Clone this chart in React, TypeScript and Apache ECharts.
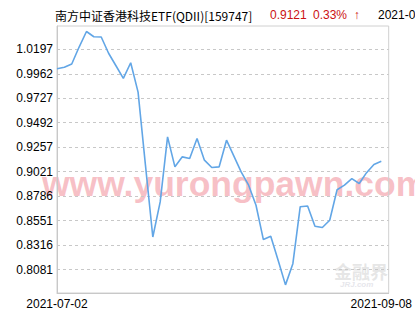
import React, { useEffect, useRef } from "react";
import * as echarts from "echarts";

const dates = [
  "2021-07-02", "2021-07-06", "2021-07-07", "2021-07-08", "2021-07-09",
  "2021-07-12", "2021-07-13", "2021-07-14", "2021-07-15", "2021-07-16",
  "2021-07-19", "2021-07-20", "2021-07-21", "2021-07-22", "2021-07-23",
  "2021-07-26", "2021-07-27", "2021-07-28", "2021-07-29", "2021-07-30",
  "2021-08-03", "2021-08-04", "2021-08-05", "2021-08-06", "2021-08-09",
  "2021-08-10", "2021-08-11", "2021-08-12", "2021-08-13", "2021-08-16",
  "2021-08-17", "2021-08-18", "2021-08-19", "2021-08-20", "2021-08-23",
  "2021-08-24", "2021-08-25", "2021-08-26", "2021-08-27", "2021-08-30",
  "2021-09-01", "2021-09-02", "2021-09-03", "2021-09-07", "2021-09-08",
];

const navValues = [
  1.0010, 1.0024, 1.0056, 1.0219, 1.0368, 1.0318, 1.0315, 1.0159, 1.0039, 0.9918,
  1.0068, 0.9786, 0.9084, 0.8394, 0.8731, 0.9356, 0.9068, 0.9164, 0.9148, 0.9341,
  0.9132, 0.9062, 0.9068, 0.9324, 0.9171, 0.9017, 0.8892, 0.8699, 0.8369, 0.8401,
  0.8170, 0.7934, 0.8138, 0.8685, 0.8692, 0.8497, 0.8485, 0.8555, 0.8848, 0.8892,
  0.8954, 0.8908, 0.9012, 0.9091, 0.9121,
];

const yTickLabels = [
  "0.8081", "0.8316", "0.8551", "0.8786", "0.9021",
  "0.9257", "0.9492", "0.9727", "0.9962", "1.0197",
];

const titleName = "南方中证香港科技ETF(QDII)[159747]";
const titlePrice = "0.9121";
const titleChange = "0.33%  ↑";
const titleDate = "2021-09-08";

export default function App() {
  const ref = useRef<HTMLDivElement>(null);
  useEffect(() => {
    if (!ref.current) return;
    const chart = echarts.init(ref.current, undefined, { renderer: "svg" });
    const tickVals = yTickLabels.map((s) => parseFloat(s));
    const cats = dates.concat([""]);
    const lastIdx = dates.length - 1;
    chart.setOption({
      animation: false,
      backgroundColor: "#fff",
      grid: {
        left: 57,
        right: 23,
        top: 26,
        bottom: 37,
        show: true,
        borderColor: "#d0d0d0",
        borderWidth: 1,
      },
      xAxis: {
        type: "category",
        data: cats,
        boundaryGap: false,
        axisLine: { show: true, lineStyle: { color: "#c8c8c8" } },
        axisTick: { show: false },
        splitLine: { show: false },
        axisLabel: {
          interval: (i: number) => i === 0 || i === lastIdx,
          color: "#000",
          fontSize: 12,
          fontFamily: "Liberation Sans, Arial, sans-serif",
          margin: 5,
        },
      },
      yAxis: {
        type: "value",
        min: 0.78559,
        max: 1.04211,
        axisLine: { show: true, lineStyle: { color: "#c8c8c8" } },
        axisTick: { show: false, customValues: tickVals },
        splitLine: { show: true, lineStyle: { color: "#c8c8c8", type: [3, 3] } },
        axisLabel: {
          customValues: tickVals,
          formatter: (v: number) => v.toFixed(4),
          color: "#000",
          fontSize: 12,
          fontFamily: "Liberation Sans, Arial, sans-serif",
          margin: 4,
        },
      },
      graphic: [
        {
          type: "text",
          left: 42,
          top: 166,
          z: -10,
          style: {
            text: "www.yurongpawn.com",
            fontSize: 35.5,
            fontWeight: "bold",
            fontFamily: "Liberation Sans, Arial, sans-serif",
            fill: "rgba(240,130,142,0.5)",
          },
        },
        {
          type: "text",
          left: 334,
          top: 262,
          z: -10,
          style: {
            text: "金融界",
            fontSize: 18,
            fontWeight: "bold",
            fontFamily: "Noto Sans CJK SC",
            fill: "rgba(205,205,205,0.5)",
          },
        },
        {
          type: "text",
          left: 340,
          top: 280,
          z: -10,
          style: {
            text: "JRJ.com",
            fontSize: 8,
            fontWeight: "bold",
            fontStyle: "italic",
            fontFamily: "Liberation Sans, Arial, sans-serif",
            fill: "rgba(205,205,215,0.5)",
          },
        },
        {
          type: "text",
          left: 55,
          top: 9,
          style: {
            text: titleName,
            fontSize: 12,
            fontFamily: "Noto Sans CJK SC",
            fill: "#000",
          },
        },
        {
          type: "text",
          left: 270,
          top: 9,
          style: {
            text: titlePrice,
            fontSize: 12,
            fontFamily: "Liberation Sans, Arial, sans-serif",
            fill: "#cc1111",
          },
        },
        {
          type: "text",
          left: 313,
          top: 9,
          style: {
            text: titleChange,
            fontSize: 12,
            fontFamily: "Liberation Sans, Arial, sans-serif",
            fill: "#cc1111",
          },
        },
        {
          type: "text",
          left: 378,
          top: 9,
          style: {
            text: titleDate,
            fontSize: 12,
            fontFamily: "Liberation Sans, Arial, sans-serif",
            fill: "#000",
          },
        },
      ],
      series: [
        {
          type: "line",
          data: navValues,
          showSymbol: false,
          symbol: "none",
          lineStyle: { color: "#62a6e6", width: 1.6 },
          z: 5,
        },
      ],
    });
    return () => chart.dispose();
  }, []);
  return (
    <div
      ref={ref}
      style={{ position: "fixed", left: 0, top: 0, width: 415, height: 330 }}
    />
  );
}
